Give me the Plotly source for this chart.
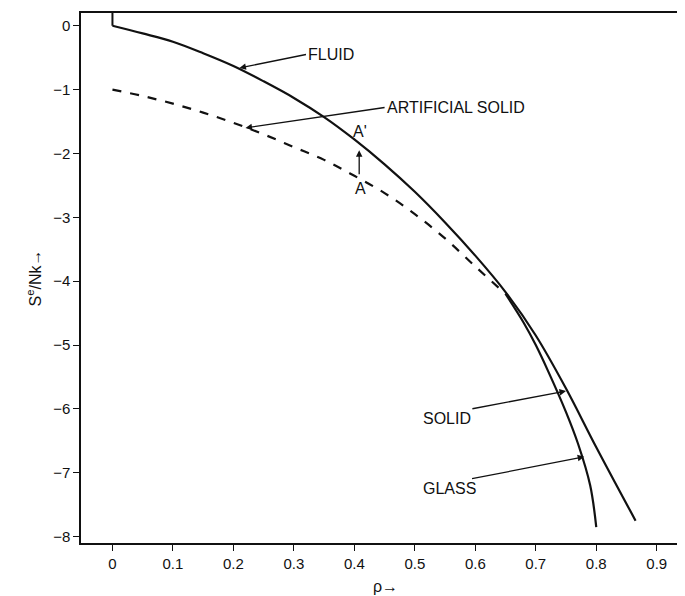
import plotly.graph_objects as go

fluid_x = [0, 0.05, 0.1, 0.15, 0.2, 0.25, 0.3, 0.35, 0.4, 0.45, 0.5, 0.55, 0.6, 0.65, 0.7, 0.75, 0.8, 0.865]
fluid_y = [0, -0.12, -0.25, -0.43, -0.63, -0.87, -1.13, -1.43, -1.78, -2.17, -2.6, -3.08, -3.6, -4.17, -4.85, -5.68, -6.6, -7.75]
glass_x = [0.65, 0.68, 0.7, 0.72, 0.75, 0.77, 0.79, 0.8]
glass_y = [-4.2, -4.65, -5.0, -5.4, -6.05, -6.55, -7.2, -7.85]
art_x = [0, 0.05, 0.1, 0.15, 0.2, 0.25, 0.3, 0.35, 0.4, 0.45, 0.5, 0.55, 0.6, 0.65]
art_y = [-1.0, -1.1, -1.22, -1.36, -1.52, -1.7, -1.9, -2.1, -2.35, -2.62, -2.95, -3.33, -3.77, -4.2]

ink = "#111"
fig = go.Figure()
fig.add_trace(go.Scatter(x=[0, 0], y=[0.2, 0], mode="lines", line=dict(color=ink, width=2)))
fig.add_trace(go.Scatter(x=fluid_x, y=fluid_y, mode="lines", line=dict(color=ink, width=2.2, shape="spline")))
fig.add_trace(go.Scatter(x=glass_x, y=glass_y, mode="lines", line=dict(color=ink, width=2.2, shape="spline")))
fig.add_trace(go.Scatter(x=art_x, y=art_y, mode="lines", line=dict(color=ink, width=2.2, dash="dash", shape="spline")))

f = dict(family="Liberation Sans, Arial", size=16, color=ink)
def ann(tx, ty, text, ax, ay, xanchor="left"):
    fig.add_annotation(x=ax, y=ay, ax=tx, ay=ty, axref="x", ayref="y", text=text, showarrow=True,
                       arrowhead=2, arrowsize=1, arrowwidth=1.3, arrowcolor=ink, font=f, xanchor=xanchor)
ann(0.32, -0.45, "FLUID", 0.21, -0.66)
ann(0.45, -1.28, "ARTIFICIAL SOLID", 0.22, -1.6)
ann(0.51, -6.15, "SOLID", 0.75, -5.72)
ann(0.51, -7.25, "GLASS", 0.78, -6.75)
fig.add_annotation(x=0.41, y=-1.65, text="A'", showarrow=False, font=f)
fig.add_annotation(x=0.41, y=-2.55, text="A", showarrow=False, font=f)
fig.add_annotation(x=0.408, y=-1.95, ax=0.408, ay=-2.35, axref="x", ayref="y", text="", showarrow=True,
                   arrowhead=2, arrowwidth=1.3, arrowcolor=ink)

ax_common = dict(showgrid=False, zeroline=False, showline=True, linecolor=ink, linewidth=1.5, mirror=True,
                 ticks="outside", ticklen=6, tickcolor=ink, automargin=False,
                 tickfont=dict(family="Liberation Sans, Arial", size=15, color=ink))
fig.update_xaxes(range=[-0.052, 0.955], tickvals=[0, 0.1, 0.2, 0.3, 0.4, 0.5, 0.6, 0.7, 0.8, 0.9],
                 title=dict(text="ρ→", font=f, standoff=10), **ax_common)
fig.update_yaxes(range=[-8.1, 0.2], tickvals=[0, -1, -2, -3, -4, -5, -6, -7, -8],
                 title=dict(text="S<sup>e</sup>/Nk→", font=f, standoff=8), **ax_common)
fig.update_layout(width=685, height=596, showlegend=False, plot_bgcolor="white", paper_bgcolor="white",
                  margin=dict(l=73, r=3, t=5, b=61))
fig.write_html("out.html")
